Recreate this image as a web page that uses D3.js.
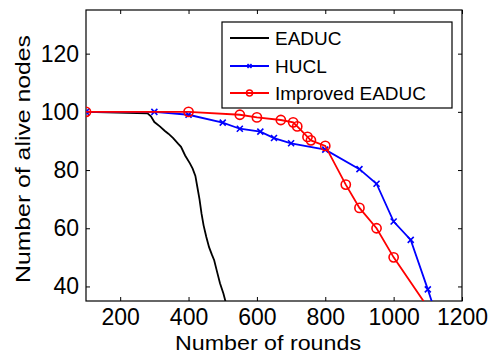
<!DOCTYPE html>
<html>
<head>
<meta charset="utf-8">
<script src="https://cdn.jsdelivr.net/npm/d3@7/dist/d3.min.js"></script>
<style>
  body { margin: 0; background: #fff; }
  svg { font-family: "Liberation Sans", Arial, sans-serif; }
</style>
</head>
<body>
<div id="chart"></div>
<script>
// EADUC (black, no markers)
const eaducRounds = [100, 280, 290, 300, 316, 330, 341, 355, 370, 378, 390, 404, 412, 420, 426, 432, 438, 444, 452, 460, 468, 475, 482, 492, 502, 510];
const eaducAlive  = [100, 99.5, 98.5, 96.5, 95, 93.5, 92.5, 91, 89, 88, 85, 82.3, 80.5, 78, 74, 70, 65, 61, 57, 53.5, 51, 49, 45.7, 41.1, 37.6, 34];

// HUCL (blue, x markers)
const huclRounds = [100, 300, 400, 500, 550, 610, 650, 700, 800, 900, 950, 1000, 1050, 1100, 1150];
const huclAlive  = [100, 100, 99, 96.3, 94.2, 93.2, 91, 89.2, 87, 80.3, 75.3, 62.3, 56, 39, 21];

// Improved EADUC (red, circle markers)
const impRounds = [100, 400, 550, 600, 670, 706, 718, 748, 758, 800, 860, 900, 950, 1000, 1100];
const impAlive  = [100, 100, 99, 98.1, 97.2, 96.4, 95, 91.4, 90.2, 88.3, 75, 67, 60, 50, 32.8];

const xTicks = [200, 400, 600, 800, 1000, 1200];
const yTicks = [40, 60, 80, 100, 120];
const legendLabels = ['EADUC', 'HUCL', 'Improved EADUC'];

const W = 490, H = 354;
const margin = { top: 10, right: 28, bottom: 53, left: 86 };
const width = W - margin.left - margin.right;
const height = H - margin.top - margin.bottom;

const x = d3.scaleLinear().domain([100, 1200]).range([0, width]);
const y = d3.scaleLinear().domain([35, 135]).range([height, 0]);

const svg = d3.select('#chart').append('svg')
  .attr('width', W)
  .attr('height', H);

svg.append('defs').append('clipPath')
  .attr('id', 'clip')
  .append('rect')
  .attr('width', width)
  .attr('height', height);

const g = svg.append('g')
  .attr('transform', 'translate(' + margin.left + ',' + margin.top + ')');

// frame + inward ticks on all four sides
const tick = 4;
const fmt = d3.format('d');
g.append('g').attr('transform', 'translate(0,' + height + ')')
  .call(d3.axisBottom(x).tickValues(xTicks).tickSize(-tick).tickPadding(8).tickFormat(fmt).tickSizeOuter(0));
g.append('g')
  .call(d3.axisTop(x).tickValues(xTicks).tickSize(-tick).tickFormat('').tickSizeOuter(0));
g.append('g')
  .call(d3.axisLeft(y).tickValues(yTicks).tickSize(-tick).tickPadding(7).tickFormat(fmt).tickSizeOuter(0));
g.append('g').attr('transform', 'translate(' + width + ',0)')
  .call(d3.axisRight(y).tickValues(yTicks).tickSize(-tick).tickFormat('').tickSizeOuter(0));

g.selectAll('.domain').remove();
g.selectAll('.tick line').attr('stroke', '#000').attr('stroke-width', 1);
g.selectAll('.tick text').attr('fill', '#000').style('font-size', '23px');

g.append('rect')
  .attr('width', width)
  .attr('height', height)
  .attr('fill', 'none')
  .attr('stroke', '#000')
  .attr('stroke-width', 1.2);

const line = d3.line().x(d => x(d[0])).y(d => y(d[1]));
const plot = g.append('g').attr('clip-path', 'url(#clip)');

const eaduc = eaducRounds.map((r, i) => [r, eaducAlive[i]]);
const hucl = huclRounds.map((r, i) => [r, huclAlive[i]]);
const imp = impRounds.map((r, i) => [r, impAlive[i]]);

plot.append('path').datum(eaduc)
  .attr('d', line).attr('fill', 'none').attr('stroke', '#000').attr('stroke-width', 1.8);

plot.append('path').datum(hucl)
  .attr('d', line).attr('fill', 'none').attr('stroke', '#0000ff').attr('stroke-width', 1.8);

function xMark(sel, s, color) {
  sel.append('path')
    .attr('d', 'M' + (-s) + ',' + (-s) + 'L' + s + ',' + s + 'M' + (-s) + ',' + s + 'L' + s + ',' + (-s))
    .attr('stroke', color).attr('stroke-width', 1.6).attr('fill', 'none');
}

plot.selectAll('.hx').data(hucl).enter().append('g')
  .attr('class', 'hx')
  .attr('transform', d => 'translate(' + x(d[0]) + ',' + y(d[1]) + ')')
  .each(function () { xMark(d3.select(this), 3, '#0000ff'); });

plot.append('path').datum(imp)
  .attr('d', line).attr('fill', 'none').attr('stroke', '#ff0000').attr('stroke-width', 1.8);

plot.selectAll('.ic').data(imp).enter().append('circle')
  .attr('class', 'ic')
  .attr('cx', d => x(d[0]))
  .attr('cy', d => y(d[1]))
  .attr('r', 4.6)
  .attr('fill', 'none')
  .attr('stroke', '#ff0000')
  .attr('stroke-width', 1.6);

// axis labels
svg.append('text')
  .attr('x', 175).attr('y', 350)
  .attr('textLength', 186).attr('lengthAdjust', 'spacingAndGlyphs')
  .style('font-size', '20px')
  .text('Number of rounds');

svg.append('text')
  .attr('transform', 'translate(30,159) rotate(-90)')
  .attr('text-anchor', 'middle')
  .attr('textLength', 248).attr('lengthAdjust', 'spacingAndGlyphs')
  .style('font-size', '20px')
  .text('Number of alive nodes');

// legend
const leg = svg.append('g').attr('transform', 'translate(222,22)');
leg.append('rect')
  .attr('width', 230).attr('height', 86)
  .attr('fill', '#fff').attr('stroke', '#000').attr('stroke-width', 1.2);

const legColors = ['#000', '#0000ff', '#ff0000'];
const legY = [16, 44, 71];
legendLabels.forEach((lab, i) => {
  const row = leg.append('g').attr('transform', 'translate(0,' + legY[i] + ')');
  row.append('line')
    .attr('x1', 8).attr('x2', 47).attr('y1', 0).attr('y2', 0)
    .attr('stroke', legColors[i]).attr('stroke-width', 1.8);
  if (i === 1) {
    const m = row.append('g').attr('transform', 'translate(27.5,0)');
    xMark(m, 2, '#0000ff');
  }
  if (i === 2) {
    row.append('circle').attr('cx', 27.5).attr('cy', 0).attr('r', 3)
      .attr('fill', 'none').attr('stroke', '#ff0000').attr('stroke-width', 1.5);
  }
  row.append('text')
    .attr('x', 53).attr('y', 7)
    .style('font-size', '19px')
    .text(lab);
});
</script>
</body>
</html>
